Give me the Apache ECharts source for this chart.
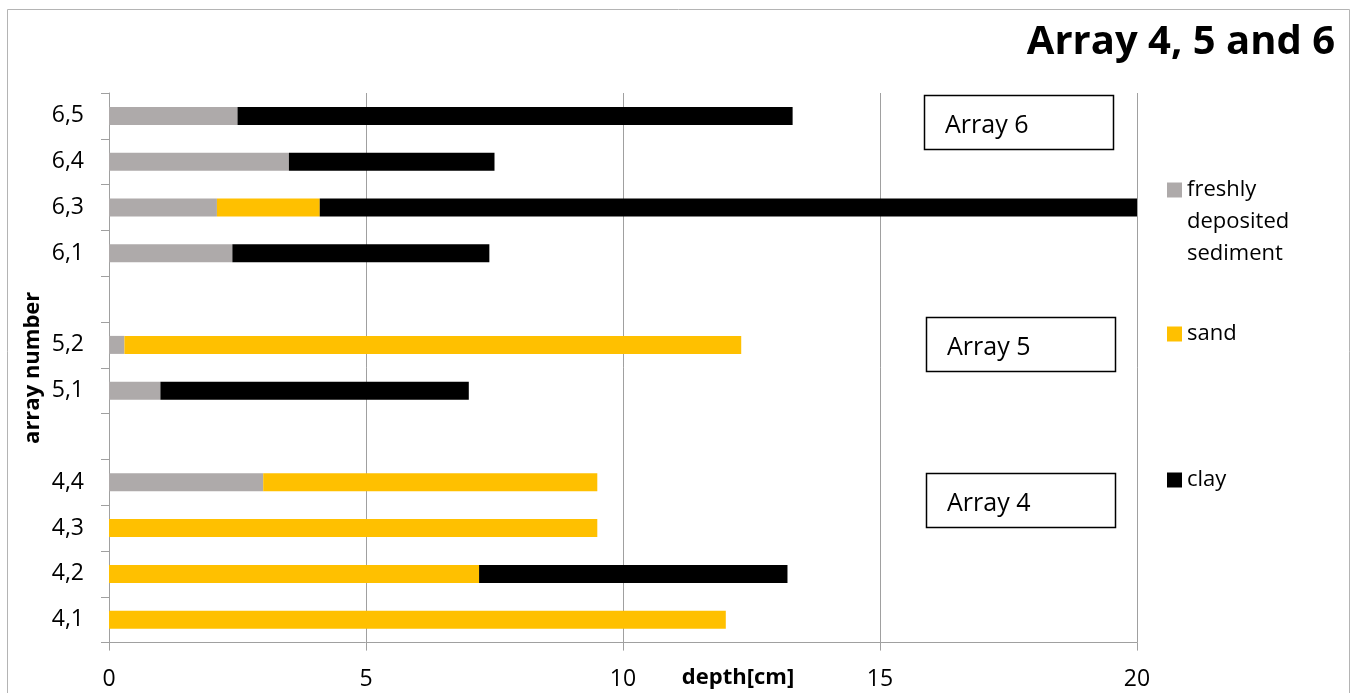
<!DOCTYPE html>
<html>
<head>
<meta charset="utf-8">
<title>Array 4, 5 and 6</title>
<script src="https://cdn.jsdelivr.net/npm/echarts@6/dist/echarts.min.js"></script>
<style>
  html, body { margin: 0; padding: 0; background: #fff; }
  #chart { width: 1355px; height: 693px; }
</style>
</head>
<body>
<div id="chart"></div>
<script>
// Sample rows, bottom to top; blank rows separate the arrays
const categories = ['4,1', '4,2', '4,3', '4,4', ' ', '5,1', '5,2', '  ', '6,1', '6,3', '6,4', '6,5'];
// Layer thicknesses in cm
const freshSediment = [0, 0, 0, 3, null, 1, 0.3, null, 2.4, 2.1, 3.5, 2.5];
const sand = [12, 7.2, 9.5, 6.5, null, 0, 12, null, 0, 2, 0, 0];
const clay = [0, 6, 0, 0, null, 6, 0, null, 5, 15.9, 4, 10.8];
const depthTicks = { min: 0, max: 20, interval: 5 };
const arrayLabels = ['Array 6', 'Array 5', 'Array 4'];

const FONT = '"Open Sans", "DejaVu Sans", sans-serif';
const GRID_GREY = '#a0a0a0';

const chart = echarts.init(document.getElementById('chart'), null, { renderer: 'canvas' });

const legendText = { fontFamily: FONT, fontSize: 22, color: '#000', lineHeight: 32 };
const legendBase = {
  orient: 'vertical', left: 1167, padding: 0, icon: 'rect',
  itemWidth: 15, itemHeight: 15, selectedMode: false, textStyle: legendText
};

// annotation boxes beside each array group
const boxPos = [[924, 95, 189, 54], [926, 317, 189, 54], [926, 473, 189, 54]];
const boxes = arrayLabels.map((label, i) => ({
  type: 'group', x: boxPos[i][0], y: boxPos[i][1],
  children: [
    { type: 'rect', shape: { x: 0.5, y: 0.5, width: boxPos[i][2], height: boxPos[i][3] },
      style: { fill: '#fff', stroke: '#000', lineWidth: 1.5 } },
    { type: 'text', x: 21, y: boxPos[i][3] / 2 + 4,
      style: { text: label, font: '25px ' + FONT, fill: '#000', verticalAlign: 'middle' } }
  ]
}));

const option = {
  backgroundColor: '#fff',
  animation: false,
  title: {
    text: 'Array 4, 5 and 6', right: 20, top: 23, padding: 0,
    textStyle: { fontFamily: FONT, fontSize: 40, fontWeight: 'bold', color: '#000' }
  },
  legend: [
    Object.assign({}, legendBase, { top: 110, data: ['freshly deposited sediment'],
      formatter: () => '\n\nfreshly\ndeposited\nsediment' }),
    Object.assign({}, legendBase, { top: 318, data: ['sand'] }),
    Object.assign({}, legendBase, { top: 464, data: ['clay'] })
  ],
  grid: { left: 109, right: 218, top: 93, bottom: 50.4, containLabel: false, outerBoundsMode: 'none' },
  xAxis: {
    type: 'value', min: depthTicks.min, max: depthTicks.max, interval: depthTicks.interval,
    name: 'depth[cm]', nameLocation: 'middle', nameGap: 24, nameMoveOverlap: false,
    nameTextStyle: { fontFamily: FONT, fontSize: 22, fontWeight: 'bold', color: '#000', padding: [0, 0, 0, 230] },
    axisLine: { show: true, lineStyle: { color: GRID_GREY, width: 1 } },
    axisTick: { show: true, length: 8, lineStyle: { color: GRID_GREY } },
    axisLabel: { fontFamily: FONT, fontSize: 23, color: '#000', margin: 25 },
    splitLine: { show: true, lineStyle: { color: GRID_GREY, width: 1 } }
  },
  yAxis: {
    type: 'category', data: categories,
    name: 'array number', nameLocation: 'middle', nameGap: 65, nameRotate: 90, nameMoveOverlap: false,
    nameTextStyle: { fontFamily: FONT, fontSize: 22, fontWeight: 'bold', color: '#000' },
    axisLine: { show: true, lineStyle: { color: GRID_GREY, width: 1 } },
    axisTick: { show: true, length: 8, lineStyle: { color: GRID_GREY } },
    axisLabel: { fontFamily: FONT, fontSize: 23, color: '#000', margin: 25, interval: 0 },
    splitLine: { show: false }
  },
  series: [
    { name: 'freshly deposited sediment', type: 'bar', stack: 'depth', data: freshSediment,
      barWidth: 18, itemStyle: { color: '#aeaaaa' } },
    { name: 'sand', type: 'bar', stack: 'depth', data: sand,
      barWidth: 18, itemStyle: { color: '#ffc000' } },
    { name: 'clay', type: 'bar', stack: 'depth', data: clay,
      barWidth: 18, itemStyle: { color: '#000000' } }
  ],
  graphic: [
    { type: 'rect', silent: true, z: -10,
      shape: { x: 7.5, y: 9.5, width: 1342, height: 720 },
      style: { fill: 'none', stroke: '#b4b4b4', lineWidth: 1 } }
  ].concat(boxes)
};

chart.setOption(option);
</script>
</body>
</html>
